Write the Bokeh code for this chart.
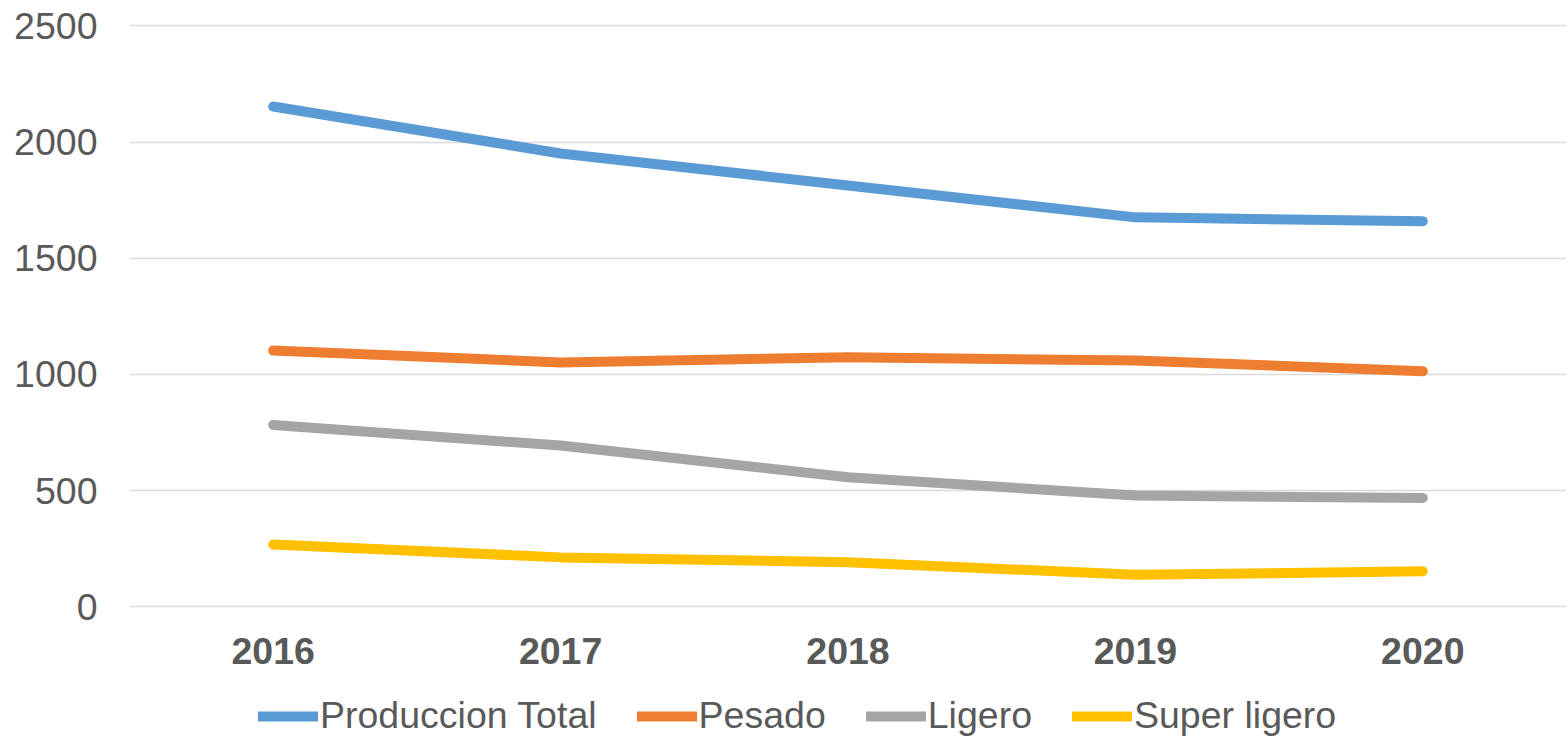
from bokeh.plotting import figure
from bokeh.models import FactorRange, Range1d, Legend, LegendItem, FixedTicker
from bokeh.core.properties import value
from bokeh.embed import file_html
from bokeh.resources import INLINE

years = ["2016", "2017", "2018", "2019", "2020"]
produccion_total = [2153, 1951, 1813, 1676, 1659]
pesado = [1103, 1052, 1074, 1060, 1014]
ligero = [783, 694, 558, 479, 469]
super_ligero = [268, 213, 192, 138, 153]
y_ticks = [0, 500, 1000, 1500, 2000, 2500]

series = [
    ("Produccion Total", produccion_total, "#5b9bd5"),
    ("Pesado", pesado, "#ed7d31"),
    ("Ligero", ligero, "#a5a5a5"),
    ("Super ligero", super_ligero, "#ffc000"),
]

FONT = "Liberation Sans"
TXT = "#595959"
FS = "37.5px"

p = figure(
    width=1566, height=737,
    x_range=FactorRange(factors=years, range_padding=0),
    y_range=Range1d(-562, 2523),
    x_axis_location=None,
    output_backend="svg", toolbar_location=None,
    min_border_left=129, min_border_right=0,
    min_border_top=20, min_border_bottom=0,
)
p.outline_line_color = None
p.background_fill_color = "white"
p.border_fill_color = "white"

items = []
for name, vals, color in series:
    r = p.line(years, vals, line_color=color, line_width=10,
               line_cap="round", line_join="round")
    items.append(LegendItem(label=name, renderers=[r]))

# category labels under the plot area
p.text(x=years, y=[-188] * len(years), text=years,
       text_font=value(FONT), text_font_size=FS, text_font_style="bold",
       text_color=TXT, text_align="center", text_baseline="middle")

# y axis
p.yaxis.ticker = FixedTicker(ticks=y_ticks)
p.yaxis.axis_line_color = None
p.yaxis.major_tick_line_color = None
p.yaxis.minor_tick_line_color = None
p.yaxis.major_tick_out = 0
p.yaxis.major_tick_in = 0
p.yaxis.major_label_standoff = 32
p.yaxis.major_label_text_font = FONT
p.yaxis.major_label_text_font_size = FS
p.yaxis.major_label_text_color = TXT

p.xgrid.grid_line_color = None
p.ygrid.ticker = FixedTicker(ticks=y_ticks)
p.ygrid.grid_line_color = "#d9d9d9"
p.ygrid.grid_line_width = 1.5

legend = Legend(
    items=items, orientation="horizontal", location=(129, 0),
    label_text_font=FONT, label_text_font_size=FS,
    label_text_color=TXT, glyph_width=60, glyph_height=30,
    label_standoff=2, spacing=40, padding=0, margin=0,
    border_line_color=None, background_fill_alpha=0,
)
p.add_layout(legend, "center")

open("out.html", "w").write(file_html(p, INLINE))
